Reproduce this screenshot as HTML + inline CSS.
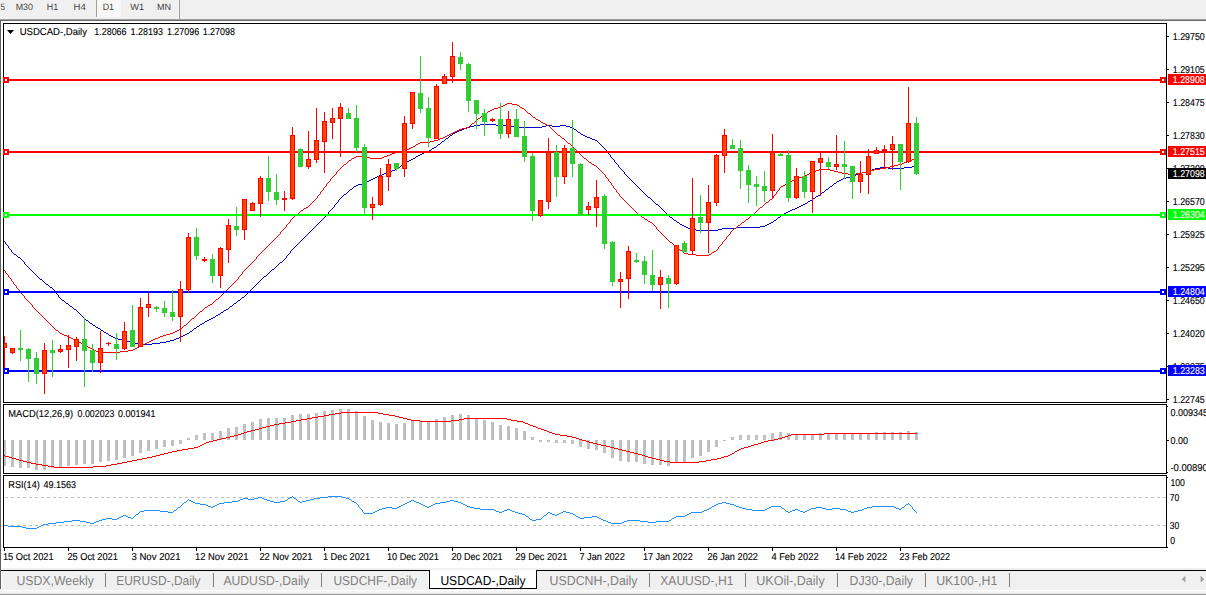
<!DOCTYPE html>
<html><head><meta charset="utf-8"><title>USDCAD-,Daily</title>
<style>html,body{margin:0;padding:0;background:#fff;overflow:hidden}body{width:1206px;height:595px;position:relative;font-family:"Liberation Sans", sans-serif}svg{position:absolute;left:0;top:0;display:block}svg text{font-family:"Liberation Sans", sans-serif;white-space:pre}</style></head><body>
<svg width="1206" height="595" viewBox="0 0 1206 595" shape-rendering="crispEdges">
<rect x="0" y="0" width="1206" height="595" fill="#ffffff"/>
<rect x="0" y="0" width="1206" height="19" fill="#f0f0f0"/>
<rect x="0" y="19" width="1206" height="1" fill="#a0a0a0"/>
<rect x="0" y="20" width="1206" height="1" fill="#696969"/>
<rect x="96" y="0" width="1" height="17" fill="#a0a0a0"/>
<rect x="97" y="0" width="24" height="17" fill="#f8f8f8"/>
<rect x="179" y="0" width="1" height="19" fill="#a0a0a0"/>
<text x="0.5" y="10.2" font-size="9.2" fill="#444444" textLength="4.5" lengthAdjust="spacingAndGlyphs" text-rendering="geometricPrecision">5</text>
<text x="15.7" y="10.2" font-size="9.2" fill="#444444" textLength="17.3" lengthAdjust="spacingAndGlyphs" text-rendering="geometricPrecision">M30</text>
<text x="46.8" y="10.2" font-size="9.2" fill="#444444" textLength="11.4" lengthAdjust="spacingAndGlyphs" text-rendering="geometricPrecision">H1</text>
<text x="73.6" y="10.2" font-size="9.2" fill="#444444" textLength="12.2" lengthAdjust="spacingAndGlyphs" text-rendering="geometricPrecision">H4</text>
<text x="102.7" y="10.2" font-size="9.2" fill="#444444" textLength="11.3" lengthAdjust="spacingAndGlyphs" text-rendering="geometricPrecision">D1</text>
<text x="130.3" y="10.2" font-size="9.2" fill="#444444" textLength="13.9" lengthAdjust="spacingAndGlyphs" text-rendering="geometricPrecision">W1</text>
<text x="156.9" y="10.2" font-size="9.2" fill="#444444" textLength="14.1" lengthAdjust="spacingAndGlyphs" text-rendering="geometricPrecision">MN</text>
<rect x="0" y="21" width="1" height="568" fill="#606060"/>
<rect x="0" y="568" width="1206" height="2" fill="#f0f0f0"/>
<rect x="1" y="570" width="1206" height="1" fill="#000000"/>
<rect x="1" y="571" width="1206" height="18" fill="#f0f0f0"/>
<rect x="0" y="589" width="1206" height="1" fill="#f0f0f0"/>
<rect x="0" y="590" width="1206" height="1" fill="#ffffff"/>
<rect x="0" y="591" width="1206" height="2" fill="#f4f4f4"/>
<rect x="0" y="593" width="1206" height="1" fill="#e0e0e0"/>
<rect x="0" y="594" width="1206" height="1" fill="#a0a0a0"/>
<rect x="0" y="21" width="1" height="568" fill="#606060"/>
<rect x="1" y="571" width="1" height="18" fill="#ffffff"/>
<rect x="429" y="570" width="108" height="19" fill="#000000"/>
<rect x="430" y="570" width="106" height="18" fill="#ffffff"/>
<rect x="428" y="571" width="1" height="18" fill="#ffffff"/>
<g shape-rendering="auto">
<text x="16.4" y="584.6" font-size="13" fill="#808080" textLength="77.6" lengthAdjust="spacingAndGlyphs" text-rendering="geometricPrecision">USDX,Weekly</text>
<text x="116.3" y="584.6" font-size="13" fill="#808080" textLength="84.2" lengthAdjust="spacingAndGlyphs" text-rendering="geometricPrecision">EURUSD-,Daily</text>
<text x="223.4" y="584.6" font-size="13" fill="#808080" textLength="86.0" lengthAdjust="spacingAndGlyphs" text-rendering="geometricPrecision">AUDUSD-,Daily</text>
<text x="333.5" y="584.6" font-size="13" fill="#808080" textLength="83.5" lengthAdjust="spacingAndGlyphs" text-rendering="geometricPrecision">USDCHF-,Daily</text>
<text x="440.4" y="584.6" font-size="13" fill="#000000" textLength="85.2" lengthAdjust="spacingAndGlyphs" text-rendering="geometricPrecision">USDCAD-,Daily</text>
<text x="549.5" y="584.6" font-size="13" fill="#808080" textLength="88.0" lengthAdjust="spacingAndGlyphs" text-rendering="geometricPrecision">USDCNH-,Daily</text>
<text x="660.3" y="584.6" font-size="13" fill="#808080" textLength="73.1" lengthAdjust="spacingAndGlyphs" text-rendering="geometricPrecision">XAUUSD-,H1</text>
<text x="756.3" y="584.6" font-size="13" fill="#808080" textLength="68.4" lengthAdjust="spacingAndGlyphs" text-rendering="geometricPrecision">UKOil-,Daily</text>
<text x="849.6" y="584.6" font-size="13" fill="#808080" textLength="63.4" lengthAdjust="spacingAndGlyphs" text-rendering="geometricPrecision">DJ30-,Daily</text>
<text x="936.2" y="584.6" font-size="13" fill="#808080" textLength="61.1" lengthAdjust="spacingAndGlyphs" text-rendering="geometricPrecision">UK100-,H1</text>
</g>
<rect x="105" y="573" width="1" height="14" fill="#808080"/>
<rect x="213" y="573" width="1" height="14" fill="#808080"/>
<rect x="321" y="573" width="1" height="14" fill="#808080"/>
<rect x="649" y="573" width="1" height="14" fill="#808080"/>
<rect x="745" y="573" width="1" height="14" fill="#808080"/>
<rect x="837" y="573" width="1" height="14" fill="#808080"/>
<rect x="925" y="573" width="1" height="14" fill="#808080"/>
<rect x="1009" y="573" width="1" height="14" fill="#808080"/>
<path d="M1185.4 575.8 L1185.4 582.6 L1181.7 579.2 Z" fill="#a0a0a0" shape-rendering="auto"/>
<path d="M1200.6 575.8 L1200.6 582.6 L1204.3 579.2 Z" fill="#a0a0a0" shape-rendering="auto"/>
<rect x="3" y="23" width="1164" height="1" fill="#000"/>
<rect x="3" y="402" width="1164" height="1" fill="#000"/>
<rect x="3" y="23" width="1" height="380" fill="#000"/>
<rect x="1166" y="23" width="1" height="380" fill="#000"/>
<rect x="3" y="404" width="1164" height="1" fill="#000"/>
<rect x="3" y="473" width="1164" height="1" fill="#000"/>
<rect x="3" y="404" width="1" height="70" fill="#000"/>
<rect x="1166" y="404" width="1" height="70" fill="#000"/>
<rect x="3" y="475" width="1164" height="1" fill="#000"/>
<rect x="3" y="547" width="1164" height="1" fill="#000"/>
<rect x="3" y="475" width="1" height="73" fill="#000"/>
<rect x="1166" y="475" width="1" height="73" fill="#000"/>
<clipPath id="cm"><rect x="4" y="24" width="1162" height="378"/></clipPath>
<g clip-path="url(#cm)">
<path d="M4 241h1v1h-1zM5 242h1v2h-1zM6 244h1v1h-1zM7 245h1v1h-1zM8 246h1v2h-1zM9 248h1v1h-1zM10 249h1v1h-1zM11 250h1v2h-1zM12 252h1v1h-1zM13 253h1v1h-1zM14 254h2v1h-2zM16 255h1v1h-1zM17 256h1v1h-1zM18 257h2v1h-2zM20 258h1v1h-1zM21 259h1v1h-1zM22 260h1v1h-1zM23 261h1v1h-1zM24 262h1v2h-1zM25 264h1v1h-1zM26 265h1v1h-1zM27 266h1v1h-1zM28 267h1v1h-1zM29 268h1v1h-1zM30 269h1v1h-1zM31 270h1v1h-1zM32 271h1v1h-1zM33 272h1v1h-1zM34 273h1v1h-1zM35 274h1v1h-1zM36 275h1v1h-1zM37 276h1v1h-1zM38 277h1v1h-1zM39 278h1v1h-1zM40 279h2v1h-2zM42 280h1v1h-1zM43 281h1v1h-1zM44 282h1v1h-1zM45 283h1v1h-1zM46 284h2v1h-2zM48 285h1v1h-1zM49 286h1v1h-1zM50 287h2v1h-2zM52 288h1v1h-1zM53 289h1v1h-1zM54 290h1v2h-1zM55 292h1v1h-1zM56 293h1v1h-1zM57 294h1v1h-1zM58 295h1v2h-1zM59 297h1v1h-1zM60 298h1v1h-1zM61 299h1v1h-1zM62 300h2v1h-2zM64 301h1v1h-1zM65 302h1v1h-1zM66 303h2v1h-2zM68 304h1v1h-1zM69 305h1v1h-1zM70 306h2v1h-2zM72 307h1v1h-1zM73 308h1v1h-1zM74 309h2v1h-2zM76 310h1v1h-1zM77 311h1v1h-1zM78 312h1v1h-1zM79 313h1v1h-1zM80 314h1v1h-1zM81 315h1v1h-1zM82 316h1v1h-1zM83 317h1v1h-1zM84 318h1v1h-1zM85 319h1v1h-1zM86 320h2v1h-2zM88 321h1v1h-1zM89 322h1v1h-1zM90 323h2v1h-2zM92 324h1v1h-1zM93 325h2v1h-2zM95 326h1v1h-1zM96 327h2v1h-2zM98 328h2v1h-2zM100 329h1v1h-1zM101 330h2v1h-2zM103 331h1v1h-1zM104 332h2v1h-2zM106 333h2v1h-2zM108 334h1v1h-1zM109 335h2v1h-2zM111 336h2v1h-2zM113 337h2v1h-2zM115 338h3v1h-3zM118 339h4v1h-4zM122 340h4v1h-4zM126 341h4v1h-4zM130 342h4v1h-4zM134 343h4v1h-4zM138 344h14v1h-14zM152 343h8v1h-8zM160 342h6v1h-6zM166 341h4v1h-4zM170 340h4v1h-4zM174 339h2v1h-2zM176 338h3v1h-3zM179 337h2v1h-2zM181 336h2v1h-2zM183 335h2v1h-2zM185 334h2v1h-2zM187 333h2v1h-2zM189 332h1v1h-1zM190 331h2v1h-2zM192 330h1v1h-1zM193 329h1v1h-1zM194 328h2v1h-2zM196 327h1v1h-1zM197 326h2v1h-2zM199 325h1v1h-1zM200 324h2v1h-2zM202 323h2v1h-2zM204 322h1v1h-1zM205 321h2v1h-2zM207 320h2v1h-2zM209 319h2v1h-2zM211 318h2v1h-2zM213 317h2v1h-2zM215 316h1v1h-1zM216 315h2v1h-2zM218 314h2v1h-2zM220 313h1v1h-1zM221 312h2v1h-2zM223 311h1v1h-1zM224 310h2v1h-2zM226 309h2v1h-2zM228 308h1v1h-1zM229 307h1v1h-1zM230 306h2v1h-2zM232 305h1v1h-1zM233 304h1v1h-1zM234 303h2v1h-2zM236 302h1v1h-1zM237 301h1v1h-1zM238 300h2v1h-2zM240 299h1v1h-1zM241 298h1v1h-1zM242 297h2v1h-2zM244 296h1v1h-1zM245 295h1v1h-1zM246 294h1v1h-1zM247 293h1v1h-1zM248 292h1v1h-1zM249 291h1v1h-1zM250 290h1v1h-1zM251 289h1v1h-1zM252 288h1v1h-1zM253 287h1v1h-1zM254 286h1v1h-1zM255 285h1v1h-1zM256 284h1v1h-1zM257 283h1v1h-1zM258 282h1v1h-1zM259 281h1v1h-1zM260 280h1v1h-1zM261 279h1v1h-1zM262 278h1v1h-1zM263 277h1v1h-1zM264 276h2v1h-2zM266 275h1v1h-1zM267 274h1v1h-1zM268 273h1v1h-1zM269 272h1v1h-1zM270 271h1v1h-1zM271 270h1v1h-1zM272 269h2v1h-2zM274 268h1v1h-1zM275 267h1v1h-1zM276 266h1v1h-1zM277 265h1v1h-1zM278 264h1v1h-1zM279 263h1v1h-1zM280 262h2v1h-2zM282 261h1v1h-1zM283 260h1v1h-1zM284 259h1v1h-1zM285 258h1v1h-1zM286 256h1v2h-1zM287 255h1v1h-1zM288 254h1v1h-1zM289 253h1v1h-1zM290 251h1v2h-1zM291 250h1v1h-1zM292 249h1v1h-1zM293 248h1v1h-1zM294 247h1v1h-1zM295 246h1v1h-1zM296 245h1v1h-1zM297 244h1v1h-1zM298 243h1v1h-1zM299 242h1v1h-1zM300 241h1v1h-1zM301 240h1v1h-1zM302 239h1v1h-1zM303 238h1v1h-1zM304 237h1v1h-1zM305 236h1v1h-1zM306 235h1v1h-1zM307 234h1v1h-1zM308 233h1v1h-1zM309 232h1v1h-1zM310 231h1v1h-1zM311 230h1v1h-1zM312 229h1v1h-1zM313 228h1v1h-1zM314 227h1v1h-1zM315 226h1v1h-1zM316 225h1v1h-1zM317 224h1v1h-1zM318 223h1v1h-1zM319 222h1v1h-1zM320 221h1v1h-1zM321 220h1v1h-1zM322 219h1v1h-1zM323 218h1v1h-1zM324 217h1v1h-1zM325 216h1v1h-1zM326 215h1v1h-1zM327 214h1v1h-1zM328 212h1v2h-1zM329 211h1v1h-1zM330 210h1v1h-1zM331 209h1v1h-1zM332 208h1v1h-1zM333 207h1v1h-1zM334 205h1v2h-1zM335 204h1v1h-1zM336 203h1v1h-1zM337 202h1v1h-1zM338 200h1v2h-1zM339 199h1v1h-1zM340 198h1v1h-1zM341 197h1v1h-1zM342 196h1v1h-1zM343 195h1v1h-1zM344 194h2v1h-2zM346 193h1v1h-1zM347 192h1v1h-1zM348 191h1v1h-1zM349 190h1v1h-1zM350 189h2v1h-2zM352 188h1v1h-1zM353 187h1v1h-1zM354 186h2v1h-2zM356 185h2v1h-2zM358 184h4v1h-4zM362 183h3v1h-3zM365 182h2v1h-2zM367 181h2v1h-2zM369 180h2v1h-2zM371 179h2v1h-2zM373 178h2v1h-2zM375 177h2v1h-2zM377 176h2v1h-2zM379 175h3v1h-3zM382 174h2v1h-2zM384 173h3v1h-3zM387 172h3v1h-3zM390 171h2v1h-2zM392 170h3v1h-3zM395 169h2v1h-2zM397 168h1v1h-1zM398 167h2v1h-2zM400 166h1v1h-1zM401 165h1v1h-1zM402 164h2v1h-2zM404 163h1v1h-1zM405 162h2v1h-2zM407 161h2v1h-2zM409 160h2v1h-2zM411 159h2v1h-2zM413 158h2v1h-2zM415 157h1v1h-1zM416 156h2v1h-2zM418 155h2v1h-2zM420 154h2v1h-2zM422 153h2v1h-2zM424 152h3v1h-3zM427 151h2v1h-2zM429 150h2v1h-2zM431 149h1v1h-1zM432 148h2v1h-2zM434 147h2v1h-2zM436 146h1v1h-1zM437 145h1v1h-1zM438 144h2v1h-2zM440 143h1v1h-1zM441 142h1v1h-1zM442 141h2v1h-2zM444 140h1v1h-1zM445 139h1v1h-1zM446 138h2v1h-2zM448 137h1v1h-1zM449 136h1v1h-1zM450 135h2v1h-2zM452 134h1v1h-1zM453 133h2v1h-2zM455 132h2v1h-2zM457 131h2v1h-2zM459 130h3v1h-3zM462 129h2v1h-2zM464 128h3v1h-3zM467 127h3v1h-3zM470 126h4v1h-4zM474 125h6v1h-6zM480 124h16v1h-16zM496 125h14v1h-14zM510 126h4v1h-4zM514 127h28v1h-28zM542 126h4v1h-4zM546 125h6v1h-6zM552 126h8v1h-8zM560 125h6v1h-6zM566 126h4v1h-4zM570 127h3v1h-3zM573 128h1v1h-1zM574 129h2v1h-2zM576 130h1v1h-1zM577 131h1v1h-1zM578 132h2v1h-2zM580 133h1v1h-1zM581 134h2v1h-2zM583 135h2v1h-2zM585 136h2v1h-2zM587 137h3v1h-3zM590 138h2v1h-2zM592 139h3v1h-3zM595 140h2v1h-2zM597 141h1v1h-1zM598 142h1v1h-1zM599 143h1v1h-1zM600 144h1v1h-1zM601 145h1v1h-1zM602 146h1v1h-1zM603 147h1v1h-1zM604 148h1v1h-1zM605 149h1v1h-1zM606 150h1v2h-1zM607 152h1v1h-1zM608 153h1v1h-1zM609 154h1v1h-1zM610 155h1v2h-1zM611 157h1v1h-1zM612 158h1v1h-1zM613 159h1v1h-1zM614 160h1v2h-1zM615 162h1v1h-1zM616 163h1v1h-1zM617 164h1v1h-1zM618 165h1v2h-1zM619 167h1v1h-1zM620 168h1v1h-1zM621 169h1v1h-1zM622 170h1v1h-1zM623 171h1v1h-1zM624 172h1v2h-1zM625 174h1v1h-1zM626 175h1v1h-1zM627 176h1v1h-1zM628 177h1v1h-1zM629 178h1v1h-1zM630 179h1v1h-1zM631 180h1v1h-1zM632 181h1v1h-1zM633 182h1v1h-1zM634 183h1v1h-1zM635 184h1v1h-1zM636 185h1v1h-1zM637 186h1v1h-1zM638 187h1v1h-1zM639 188h1v1h-1zM640 189h1v1h-1zM641 190h1v1h-1zM642 191h1v1h-1zM643 192h1v1h-1zM644 193h1v1h-1zM645 194h1v1h-1zM646 195h1v1h-1zM647 196h1v1h-1zM648 197h2v1h-2zM650 198h1v1h-1zM651 199h1v1h-1zM652 200h1v1h-1zM653 201h1v1h-1zM654 202h1v1h-1zM655 203h1v1h-1zM656 204h2v1h-2zM658 205h1v1h-1zM659 206h1v1h-1zM660 207h1v1h-1zM661 208h1v1h-1zM662 209h1v1h-1zM663 210h1v1h-1zM664 211h1v1h-1zM665 212h1v1h-1zM666 213h1v1h-1zM667 214h1v1h-1zM668 215h1v1h-1zM669 216h1v1h-1zM670 217h2v1h-2zM672 218h1v1h-1zM673 219h1v1h-1zM674 220h2v1h-2zM676 221h1v1h-1zM677 222h2v1h-2zM679 223h1v1h-1zM680 224h2v1h-2zM682 225h2v1h-2zM684 226h2v1h-2zM686 227h2v1h-2zM688 228h3v1h-3zM691 229h5v1h-5zM696 230h22v1h-22zM718 229h4v1h-4zM722 228h14v1h-14zM736 227h24v1h-24zM760 226h5v1h-5zM765 225h2v1h-2zM767 224h2v1h-2zM769 223h2v1h-2zM771 222h2v1h-2zM773 221h1v1h-1zM774 220h2v1h-2zM776 219h1v1h-1zM777 218h1v1h-1zM778 217h2v1h-2zM780 216h1v1h-1zM781 215h2v1h-2zM783 214h1v1h-1zM784 213h2v1h-2zM786 212h2v1h-2zM788 211h2v1h-2zM790 210h2v1h-2zM792 209h3v1h-3zM795 208h2v1h-2zM797 207h2v1h-2zM799 206h2v1h-2zM801 205h2v1h-2zM803 204h2v1h-2zM805 203h2v1h-2zM807 202h1v1h-1zM808 201h2v1h-2zM810 200h2v1h-2zM812 199h1v1h-1zM813 198h2v1h-2zM815 197h1v1h-1zM816 196h2v1h-2zM818 195h2v1h-2zM820 194h1v1h-1zM821 193h1v1h-1zM822 192h2v1h-2zM824 191h1v1h-1zM825 190h1v1h-1zM826 189h2v1h-2zM828 188h1v1h-1zM829 187h1v1h-1zM830 186h2v1h-2zM832 185h1v1h-1zM833 184h1v1h-1zM834 183h2v1h-2zM836 182h1v1h-1zM837 181h2v1h-2zM839 180h2v1h-2zM841 179h2v1h-2zM843 178h3v1h-3zM846 177h4v1h-4zM850 176h4v1h-4zM854 175h2v1h-2zM856 174h3v1h-3zM859 173h3v1h-3zM862 172h4v1h-4zM866 171h4v1h-4zM870 170h2v1h-2zM872 169h3v1h-3zM875 168h5v1h-5zM880 167h8v1h-8zM888 168h16v1h-16zM904 167h8v1h-8zM912 166h5v1h-5z" fill="#0000cd"/>
<path d="M4 270h1v1h-1zM5 271h1v2h-1zM6 273h1v1h-1zM7 274h1v1h-1zM8 275h1v2h-1zM9 277h1v1h-1zM10 278h1v1h-1zM11 279h1v2h-1zM12 281h1v1h-1zM13 282h1v2h-1zM14 284h1v1h-1zM15 285h1v1h-1zM16 286h1v2h-1zM17 288h1v1h-1zM18 289h1v1h-1zM19 290h1v2h-1zM20 292h1v1h-1zM21 293h1v1h-1zM22 294h1v1h-1zM23 295h1v1h-1zM24 296h1v2h-1zM25 298h1v1h-1zM26 299h1v1h-1zM27 300h1v1h-1zM28 301h1v1h-1zM29 302h1v1h-1zM30 303h1v1h-1zM31 304h1v1h-1zM32 305h1v2h-1zM33 307h1v1h-1zM34 308h1v1h-1zM35 309h1v1h-1zM36 310h1v1h-1zM37 311h1v1h-1zM38 312h1v1h-1zM39 313h1v1h-1zM40 314h1v1h-1zM41 315h1v1h-1zM42 316h1v1h-1zM43 317h1v1h-1zM44 318h1v1h-1zM45 319h1v1h-1zM46 320h1v1h-1zM47 321h1v1h-1zM48 322h1v1h-1zM49 323h1v1h-1zM50 324h1v1h-1zM51 325h1v1h-1zM52 326h1v1h-1zM53 327h1v1h-1zM54 328h1v1h-1zM55 329h1v1h-1zM56 330h2v1h-2zM58 331h1v1h-1zM59 332h1v1h-1zM60 333h2v1h-2zM62 334h2v1h-2zM64 335h3v1h-3zM67 336h2v1h-2zM69 337h2v1h-2zM71 338h2v1h-2zM73 339h2v1h-2zM75 340h2v1h-2zM77 341h2v1h-2zM79 342h2v1h-2zM81 343h2v1h-2zM83 344h2v1h-2zM85 345h2v1h-2zM87 346h1v1h-1zM88 347h2v1h-2zM90 348h2v1h-2zM92 349h2v1h-2zM94 350h2v1h-2zM96 351h3v1h-3zM99 352h21v1h-21zM120 351h8v1h-8zM128 350h5v1h-5zM133 349h2v1h-2zM135 348h2v1h-2zM137 347h2v1h-2zM139 346h2v1h-2zM141 345h2v1h-2zM143 344h2v1h-2zM145 343h2v1h-2zM147 342h2v1h-2zM149 341h2v1h-2zM151 340h2v1h-2zM153 339h2v1h-2zM155 338h3v1h-3zM158 337h2v1h-2zM160 336h3v1h-3zM163 335h3v1h-3zM166 334h4v1h-4zM170 333h3v1h-3zM173 332h2v1h-2zM175 331h2v1h-2zM177 330h2v1h-2zM179 329h2v1h-2zM181 328h1v1h-1zM182 327h1v1h-1zM183 326h1v1h-1zM184 325h2v1h-2zM186 324h1v1h-1zM187 323h1v1h-1zM188 322h1v1h-1zM189 321h1v1h-1zM190 320h1v1h-1zM191 319h1v1h-1zM192 318h2v1h-2zM194 317h1v1h-1zM195 316h1v1h-1zM196 315h1v1h-1zM197 314h1v1h-1zM198 313h1v1h-1zM199 312h1v1h-1zM200 311h2v1h-2zM202 310h1v1h-1zM203 309h1v1h-1zM204 308h1v1h-1zM205 307h2v1h-2zM207 306h1v1h-1zM208 305h2v1h-2zM210 304h2v1h-2zM212 303h1v1h-1zM213 302h1v1h-1zM214 301h1v1h-1zM215 300h1v1h-1zM216 299h2v1h-2zM218 298h1v1h-1zM219 297h1v1h-1zM220 296h1v1h-1zM221 295h1v1h-1zM222 294h1v1h-1zM223 293h1v1h-1zM224 292h1v1h-1zM225 291h1v1h-1zM226 290h1v1h-1zM227 289h1v1h-1zM228 288h1v1h-1zM229 287h1v1h-1zM230 286h1v1h-1zM231 285h1v1h-1zM232 284h1v1h-1zM233 283h1v1h-1zM234 282h1v1h-1zM235 281h1v1h-1zM236 280h1v1h-1zM237 279h1v1h-1zM238 277h1v2h-1zM239 276h1v1h-1zM240 275h1v1h-1zM241 274h1v1h-1zM242 272h1v2h-1zM243 271h1v1h-1zM244 270h1v1h-1zM245 269h1v1h-1zM246 268h1v1h-1zM247 267h1v1h-1zM248 266h1v1h-1zM249 265h1v1h-1zM250 264h1v1h-1zM251 263h1v1h-1zM252 262h1v1h-1zM253 261h1v1h-1zM254 260h1v1h-1zM255 259h1v1h-1zM256 257h1v2h-1zM257 256h1v1h-1zM258 255h1v1h-1zM259 254h1v1h-1zM260 253h1v1h-1zM261 252h1v1h-1zM262 251h1v1h-1zM263 250h1v1h-1zM264 249h1v1h-1zM265 248h1v1h-1zM266 247h1v1h-1zM267 246h1v1h-1zM268 245h1v1h-1zM269 244h1v1h-1zM270 243h1v1h-1zM271 242h1v1h-1zM272 241h1v1h-1zM273 240h1v1h-1zM274 239h1v1h-1zM275 238h1v1h-1zM276 237h1v1h-1zM277 236h1v1h-1zM278 235h1v1h-1zM279 234h1v1h-1zM280 232h1v2h-1zM281 231h1v1h-1zM282 230h1v1h-1zM283 229h1v1h-1zM284 228h1v1h-1zM285 227h1v1h-1zM286 225h1v2h-1zM287 224h1v1h-1zM288 223h1v1h-1zM289 222h1v1h-1zM290 220h1v2h-1zM291 219h1v1h-1zM292 218h1v1h-1zM293 217h1v1h-1zM294 216h1v1h-1zM295 215h1v1h-1zM296 214h2v1h-2zM298 213h1v1h-1zM299 212h1v1h-1zM300 211h1v1h-1zM301 210h2v1h-2zM303 209h1v1h-1zM304 208h2v1h-2zM306 207h2v1h-2zM308 206h1v1h-1zM309 205h1v1h-1zM310 204h1v1h-1zM311 203h1v1h-1zM312 202h1v1h-1zM313 201h1v1h-1zM314 200h1v1h-1zM315 199h1v1h-1zM316 198h1v1h-1zM317 196h1v2h-1zM318 195h1v1h-1zM319 194h1v1h-1zM320 192h1v2h-1zM321 191h1v1h-1zM322 190h1v1h-1zM323 188h1v2h-1zM324 187h1v1h-1zM325 186h1v1h-1zM326 184h1v2h-1zM327 183h1v1h-1zM328 182h1v1h-1zM329 181h1v1h-1zM330 179h1v2h-1zM331 178h1v1h-1zM332 177h1v1h-1zM333 176h1v1h-1zM334 175h1v1h-1zM335 174h1v1h-1zM336 172h1v2h-1zM337 171h1v1h-1zM338 170h1v1h-1zM339 169h1v1h-1zM340 168h1v1h-1zM341 167h1v1h-1zM342 166h1v1h-1zM343 165h1v1h-1zM344 164h2v1h-2zM346 163h1v1h-1zM347 162h1v1h-1zM348 161h1v1h-1zM349 160h2v1h-2zM351 159h1v1h-1zM352 158h2v1h-2zM354 157h2v1h-2zM356 156h10v1h-10zM366 157h4v1h-4zM370 158h12v1h-12zM382 157h2v1h-2zM384 156h3v1h-3zM387 155h3v1h-3zM390 154h2v1h-2zM392 153h3v1h-3zM395 152h5v1h-5zM400 151h5v1h-5zM405 150h2v1h-2zM407 149h2v1h-2zM409 148h2v1h-2zM411 147h2v1h-2zM413 146h2v1h-2zM415 145h1v1h-1zM416 144h2v1h-2zM418 143h2v1h-2zM420 142h10v1h-10zM430 141h4v1h-4zM434 140h4v1h-4zM438 139h2v1h-2zM440 138h3v1h-3zM443 137h2v1h-2zM445 136h2v1h-2zM447 135h2v1h-2zM449 134h2v1h-2zM451 133h2v1h-2zM453 132h2v1h-2zM455 131h2v1h-2zM457 130h2v1h-2zM459 129h3v1h-3zM462 128h4v1h-4zM466 127h3v1h-3zM469 126h1v1h-1zM470 125h1v1h-1zM471 124h1v1h-1zM472 123h2v1h-2zM474 122h1v1h-1zM475 121h1v1h-1zM476 120h1v1h-1zM477 119h1v1h-1zM478 118h2v1h-2zM480 117h1v1h-1zM481 116h1v1h-1zM482 115h2v1h-2zM484 114h1v1h-1zM485 113h2v1h-2zM487 112h1v1h-1zM488 111h2v1h-2zM490 110h2v1h-2zM492 109h2v1h-2zM494 108h4v1h-4zM498 107h3v1h-3zM501 106h2v1h-2zM503 105h2v1h-2zM505 104h2v1h-2zM507 103h5v1h-5zM512 104h5v1h-5zM517 105h2v1h-2zM519 106h1v1h-1zM520 107h2v1h-2zM522 108h2v1h-2zM524 109h1v1h-1zM525 110h1v1h-1zM526 111h1v1h-1zM527 112h1v1h-1zM528 113h2v1h-2zM530 114h1v1h-1zM531 115h1v1h-1zM532 116h1v1h-1zM533 117h2v1h-2zM535 118h1v1h-1zM536 119h2v1h-2zM538 120h2v1h-2zM540 121h1v1h-1zM541 122h2v1h-2zM543 123h2v1h-2zM545 124h2v1h-2zM547 125h2v1h-2zM549 126h1v1h-1zM550 127h1v1h-1zM551 128h1v1h-1zM552 129h1v1h-1zM553 130h1v1h-1zM554 131h1v1h-1zM555 132h1v1h-1zM556 133h1v1h-1zM557 134h1v1h-1zM558 135h2v1h-2zM560 136h1v1h-1zM561 137h1v1h-1zM562 138h2v1h-2zM564 139h1v1h-1zM565 140h1v1h-1zM566 141h1v1h-1zM567 142h1v1h-1zM568 143h2v1h-2zM570 144h1v1h-1zM571 145h1v1h-1zM572 146h1v1h-1zM573 147h1v1h-1zM574 148h1v1h-1zM575 149h1v1h-1zM576 150h1v1h-1zM577 151h1v1h-1zM578 152h1v1h-1zM579 153h1v1h-1zM580 154h1v1h-1zM581 155h1v1h-1zM582 156h1v1h-1zM583 157h1v1h-1zM584 158h2v1h-2zM586 159h1v1h-1zM587 160h1v1h-1zM588 161h1v1h-1zM589 162h2v1h-2zM591 163h1v1h-1zM592 164h2v1h-2zM594 165h2v1h-2zM596 166h1v1h-1zM597 167h1v1h-1zM598 168h1v1h-1zM599 169h1v1h-1zM600 170h1v1h-1zM601 171h1v1h-1zM602 172h1v1h-1zM603 173h1v1h-1zM604 174h1v1h-1zM605 175h1v2h-1zM606 177h1v1h-1zM607 178h1v1h-1zM608 179h1v2h-1zM609 181h1v1h-1zM610 182h1v1h-1zM611 183h1v2h-1zM612 185h1v1h-1zM613 186h1v2h-1zM614 188h1v1h-1zM615 189h1v1h-1zM616 190h1v2h-1zM617 192h1v1h-1zM618 193h1v1h-1zM619 194h1v2h-1zM620 196h1v1h-1zM621 197h1v1h-1zM622 198h1v1h-1zM623 199h1v1h-1zM624 200h1v1h-1zM625 201h1v1h-1zM626 202h1v1h-1zM627 203h1v1h-1zM628 204h1v1h-1zM629 205h1v1h-1zM630 206h1v1h-1zM631 207h1v1h-1zM632 208h1v1h-1zM633 209h1v1h-1zM634 210h1v1h-1zM635 211h1v1h-1zM636 212h1v1h-1zM637 213h1v1h-1zM638 214h2v1h-2zM640 215h1v1h-1zM641 216h1v1h-1zM642 217h2v1h-2zM644 218h1v1h-1zM645 219h2v1h-2zM647 220h1v1h-1zM648 221h2v1h-2zM650 222h2v1h-2zM652 223h1v1h-1zM653 224h1v1h-1zM654 225h1v1h-1zM655 226h1v1h-1zM656 227h1v2h-1zM657 229h1v1h-1zM658 230h1v1h-1zM659 231h1v1h-1zM660 232h1v1h-1zM661 233h1v1h-1zM662 234h1v1h-1zM663 235h1v1h-1zM664 236h1v1h-1zM665 237h1v1h-1zM666 238h1v1h-1zM667 239h1v1h-1zM668 240h1v1h-1zM669 241h1v1h-1zM670 242h2v1h-2zM672 243h1v1h-1zM673 244h1v1h-1zM674 245h2v1h-2zM676 246h1v1h-1zM677 247h1v1h-1zM678 248h1v1h-1zM679 249h1v1h-1zM680 250h2v1h-2zM682 251h1v1h-1zM683 252h1v1h-1zM684 253h4v1h-4zM688 254h8v1h-8zM696 255h13v1h-13zM709 254h2v1h-2zM711 253h1v1h-1zM712 252h2v1h-2zM714 251h2v1h-2zM716 250h1v1h-1zM717 249h1v1h-1zM718 247h1v2h-1zM719 246h1v1h-1zM720 245h1v1h-1zM721 244h1v1h-1zM722 242h1v2h-1zM723 241h1v1h-1zM724 240h1v1h-1zM725 239h1v1h-1zM726 237h1v2h-1zM727 236h1v1h-1zM728 235h1v1h-1zM729 234h1v1h-1zM730 232h1v2h-1zM731 231h1v1h-1zM732 230h1v1h-1zM733 229h1v1h-1zM734 228h2v1h-2zM736 227h1v1h-1zM737 226h1v1h-1zM738 225h2v1h-2zM740 224h1v1h-1zM741 223h1v1h-1zM742 222h2v1h-2zM744 221h1v1h-1zM745 220h1v1h-1zM746 219h2v1h-2zM748 218h1v1h-1zM749 217h1v1h-1zM750 216h1v1h-1zM751 215h1v1h-1zM752 214h2v1h-2zM754 213h1v1h-1zM755 212h1v1h-1zM756 211h1v1h-1zM757 210h1v1h-1zM758 209h1v1h-1zM759 208h1v1h-1zM760 207h2v1h-2zM762 206h1v1h-1zM763 205h1v1h-1zM764 204h1v1h-1zM765 203h1v1h-1zM766 202h2v1h-2zM768 201h1v1h-1zM769 200h1v1h-1zM770 199h2v1h-2zM772 198h1v1h-1zM773 196h1v2h-1zM774 195h1v1h-1zM775 194h1v1h-1zM776 192h1v2h-1zM777 191h1v1h-1zM778 190h1v1h-1zM779 188h1v2h-1zM780 187h1v1h-1zM781 186h2v1h-2zM783 185h2v1h-2zM785 184h2v1h-2zM787 183h2v1h-2zM789 182h2v1h-2zM791 181h1v1h-1zM792 180h2v1h-2zM794 179h2v1h-2zM796 178h2v1h-2zM798 177h4v1h-4zM802 176h3v1h-3zM805 175h2v1h-2zM807 174h2v1h-2zM809 173h2v1h-2zM811 172h3v1h-3zM814 171h2v1h-2zM816 170h3v1h-3zM819 169h11v1h-11zM830 170h4v1h-4zM834 171h4v1h-4zM838 172h4v1h-4zM842 173h6v1h-6zM848 174h8v1h-8zM856 173h6v1h-6zM862 172h4v1h-4zM866 171h4v1h-4zM870 170h4v1h-4zM874 169h6v1h-6zM880 168h6v1h-6zM886 167h4v1h-4zM890 166h4v1h-4zM894 165h4v1h-4zM898 164h4v1h-4zM902 163h2v1h-2zM904 162h3v1h-3zM907 161h3v1h-3zM910 160h2v1h-2zM912 159h3v1h-3zM915 158h2v1h-2z" fill="#ff0000"/>
<rect x="4" y="79" width="1162" height="2" fill="#ff0000"/>
<rect x="4" y="151" width="1162" height="2" fill="#ff0000"/>
<rect x="4" y="214" width="1162" height="2" fill="#00ff00"/>
<rect x="4" y="291" width="1162" height="2" fill="#0000ff"/>
<rect x="4" y="370" width="1162" height="2" fill="#0000ff"/>
<rect x="4" y="336" width="1" height="35" fill="#ff0000"/>
<rect x="2" y="343" width="5" height="5" fill="#ff0000"/>
<rect x="3" y="344" width="3" height="3" fill="#ff4500"/>
<rect x="12" y="348" width="1" height="6" fill="#ff0000"/>
<rect x="10" y="348" width="5" height="5" fill="#ff0000"/>
<rect x="11" y="349" width="3" height="3" fill="#ff4500"/>
<rect x="20" y="330" width="1" height="31" fill="#32cd32"/>
<rect x="18" y="348" width="5" height="2" fill="#32cd32"/>
<rect x="28" y="348" width="1" height="34" fill="#32cd32"/>
<rect x="26" y="349" width="5" height="10" fill="#32cd32"/>
<rect x="36" y="352" width="1" height="32" fill="#32cd32"/>
<rect x="34" y="358" width="5" height="16" fill="#32cd32"/>
<rect x="44" y="343" width="1" height="51" fill="#ff0000"/>
<rect x="42" y="350" width="5" height="24" fill="#ff0000"/>
<rect x="43" y="351" width="3" height="22" fill="#ff4500"/>
<rect x="52" y="340" width="1" height="37" fill="#32cd32"/>
<rect x="50" y="350" width="5" height="3" fill="#32cd32"/>
<rect x="60" y="345" width="1" height="8" fill="#ff0000"/>
<rect x="58" y="349" width="5" height="3" fill="#ff0000"/>
<rect x="59" y="350" width="3" height="1" fill="#ff4500"/>
<rect x="68" y="335" width="1" height="33" fill="#ff0000"/>
<rect x="66" y="345" width="5" height="5" fill="#ff0000"/>
<rect x="67" y="346" width="3" height="3" fill="#ff4500"/>
<rect x="76" y="337" width="1" height="24" fill="#ff0000"/>
<rect x="74" y="339" width="5" height="8" fill="#ff0000"/>
<rect x="75" y="340" width="3" height="6" fill="#ff4500"/>
<rect x="84" y="318" width="1" height="69" fill="#32cd32"/>
<rect x="82" y="339" width="5" height="12" fill="#32cd32"/>
<rect x="92" y="344" width="1" height="28" fill="#32cd32"/>
<rect x="90" y="350" width="5" height="13" fill="#32cd32"/>
<rect x="100" y="331" width="1" height="42" fill="#ff0000"/>
<rect x="98" y="348" width="5" height="15" fill="#ff0000"/>
<rect x="99" y="349" width="3" height="13" fill="#ff4500"/>
<rect x="108" y="342" width="1" height="4" fill="#ff0000"/>
<rect x="106" y="343" width="5" height="1" fill="#ff0000"/>
<rect x="116" y="333" width="1" height="27" fill="#32cd32"/>
<rect x="114" y="344" width="5" height="5" fill="#32cd32"/>
<rect x="124" y="322" width="1" height="28" fill="#ff0000"/>
<rect x="122" y="331" width="5" height="18" fill="#ff0000"/>
<rect x="123" y="332" width="3" height="16" fill="#ff4500"/>
<rect x="132" y="305" width="1" height="42" fill="#32cd32"/>
<rect x="130" y="330" width="5" height="17" fill="#32cd32"/>
<rect x="140" y="298" width="1" height="49" fill="#ff0000"/>
<rect x="138" y="307" width="5" height="40" fill="#ff0000"/>
<rect x="139" y="308" width="3" height="38" fill="#ff4500"/>
<rect x="148" y="293" width="1" height="24" fill="#ff0000"/>
<rect x="146" y="304" width="5" height="4" fill="#ff0000"/>
<rect x="147" y="305" width="3" height="2" fill="#ff4500"/>
<rect x="156" y="306" width="1" height="6" fill="#32cd32"/>
<rect x="154" y="307" width="5" height="2" fill="#32cd32"/>
<rect x="164" y="301" width="1" height="16" fill="#32cd32"/>
<rect x="162" y="308" width="5" height="5" fill="#32cd32"/>
<rect x="172" y="290" width="1" height="31" fill="#32cd32"/>
<rect x="170" y="312" width="5" height="5" fill="#32cd32"/>
<rect x="180" y="281" width="1" height="61" fill="#ff0000"/>
<rect x="178" y="289" width="5" height="28" fill="#ff0000"/>
<rect x="179" y="290" width="3" height="26" fill="#ff4500"/>
<rect x="188" y="233" width="1" height="60" fill="#ff0000"/>
<rect x="186" y="237" width="5" height="53" fill="#ff0000"/>
<rect x="187" y="238" width="3" height="51" fill="#ff4500"/>
<rect x="196" y="228" width="1" height="32" fill="#32cd32"/>
<rect x="194" y="237" width="5" height="19" fill="#32cd32"/>
<rect x="204" y="257" width="1" height="5" fill="#ff0000"/>
<rect x="202" y="259" width="5" height="2" fill="#ff0000"/>
<rect x="212" y="254" width="1" height="29" fill="#32cd32"/>
<rect x="210" y="259" width="5" height="17" fill="#32cd32"/>
<rect x="220" y="247" width="1" height="41" fill="#ff0000"/>
<rect x="218" y="248" width="5" height="28" fill="#ff0000"/>
<rect x="219" y="249" width="3" height="26" fill="#ff4500"/>
<rect x="228" y="219" width="1" height="44" fill="#ff0000"/>
<rect x="226" y="225" width="5" height="25" fill="#ff0000"/>
<rect x="227" y="226" width="3" height="23" fill="#ff4500"/>
<rect x="236" y="207" width="1" height="29" fill="#32cd32"/>
<rect x="234" y="226" width="5" height="4" fill="#32cd32"/>
<rect x="244" y="199" width="1" height="41" fill="#ff0000"/>
<rect x="242" y="199" width="5" height="31" fill="#ff0000"/>
<rect x="243" y="200" width="3" height="29" fill="#ff4500"/>
<rect x="252" y="202" width="1" height="9" fill="#ff0000"/>
<rect x="250" y="203" width="5" height="8" fill="#ff0000"/>
<rect x="251" y="204" width="3" height="6" fill="#ff4500"/>
<rect x="260" y="176" width="1" height="41" fill="#ff0000"/>
<rect x="258" y="178" width="5" height="26" fill="#ff0000"/>
<rect x="259" y="179" width="3" height="24" fill="#ff4500"/>
<rect x="268" y="156" width="1" height="45" fill="#32cd32"/>
<rect x="266" y="178" width="5" height="14" fill="#32cd32"/>
<rect x="276" y="174" width="1" height="31" fill="#32cd32"/>
<rect x="274" y="192" width="5" height="8" fill="#32cd32"/>
<rect x="284" y="191" width="1" height="20" fill="#ff0000"/>
<rect x="282" y="198" width="5" height="2" fill="#ff0000"/>
<rect x="292" y="127" width="1" height="73" fill="#ff0000"/>
<rect x="290" y="135" width="5" height="64" fill="#ff0000"/>
<rect x="291" y="136" width="3" height="62" fill="#ff4500"/>
<rect x="300" y="148" width="1" height="19" fill="#32cd32"/>
<rect x="298" y="149" width="5" height="18" fill="#32cd32"/>
<rect x="308" y="131" width="1" height="38" fill="#ff0000"/>
<rect x="306" y="159" width="5" height="8" fill="#ff0000"/>
<rect x="307" y="160" width="3" height="6" fill="#ff4500"/>
<rect x="316" y="108" width="1" height="55" fill="#ff0000"/>
<rect x="314" y="140" width="5" height="20" fill="#ff0000"/>
<rect x="315" y="141" width="3" height="18" fill="#ff4500"/>
<rect x="324" y="112" width="1" height="61" fill="#ff0000"/>
<rect x="322" y="121" width="5" height="21" fill="#ff0000"/>
<rect x="323" y="122" width="3" height="19" fill="#ff4500"/>
<rect x="332" y="108" width="1" height="31" fill="#ff0000"/>
<rect x="330" y="118" width="5" height="5" fill="#ff0000"/>
<rect x="331" y="119" width="3" height="3" fill="#ff4500"/>
<rect x="340" y="103" width="1" height="54" fill="#ff0000"/>
<rect x="338" y="107" width="5" height="12" fill="#ff0000"/>
<rect x="339" y="108" width="3" height="10" fill="#ff4500"/>
<rect x="348" y="108" width="1" height="11" fill="#32cd32"/>
<rect x="346" y="113" width="5" height="6" fill="#32cd32"/>
<rect x="356" y="105" width="1" height="47" fill="#32cd32"/>
<rect x="354" y="118" width="5" height="30" fill="#32cd32"/>
<rect x="364" y="144" width="1" height="70" fill="#32cd32"/>
<rect x="362" y="147" width="5" height="61" fill="#32cd32"/>
<rect x="372" y="197" width="1" height="23" fill="#ff0000"/>
<rect x="370" y="204" width="5" height="4" fill="#ff0000"/>
<rect x="371" y="205" width="3" height="2" fill="#ff4500"/>
<rect x="380" y="168" width="1" height="38" fill="#ff0000"/>
<rect x="378" y="176" width="5" height="29" fill="#ff0000"/>
<rect x="379" y="177" width="3" height="27" fill="#ff4500"/>
<rect x="388" y="159" width="1" height="32" fill="#ff0000"/>
<rect x="386" y="164" width="5" height="13" fill="#ff0000"/>
<rect x="387" y="165" width="3" height="11" fill="#ff4500"/>
<rect x="396" y="163" width="1" height="8" fill="#32cd32"/>
<rect x="394" y="163" width="5" height="6" fill="#32cd32"/>
<rect x="404" y="116" width="1" height="61" fill="#ff0000"/>
<rect x="402" y="123" width="5" height="46" fill="#ff0000"/>
<rect x="403" y="124" width="3" height="44" fill="#ff4500"/>
<rect x="412" y="92" width="1" height="37" fill="#ff0000"/>
<rect x="410" y="92" width="5" height="32" fill="#ff0000"/>
<rect x="411" y="93" width="3" height="30" fill="#ff4500"/>
<rect x="420" y="56" width="1" height="57" fill="#32cd32"/>
<rect x="418" y="93" width="5" height="16" fill="#32cd32"/>
<rect x="428" y="97" width="1" height="50" fill="#32cd32"/>
<rect x="426" y="108" width="5" height="30" fill="#32cd32"/>
<rect x="436" y="84" width="1" height="55" fill="#ff0000"/>
<rect x="434" y="86" width="5" height="53" fill="#ff0000"/>
<rect x="435" y="87" width="3" height="51" fill="#ff4500"/>
<rect x="444" y="74" width="1" height="10" fill="#ff0000"/>
<rect x="442" y="76" width="5" height="8" fill="#ff0000"/>
<rect x="443" y="77" width="3" height="6" fill="#ff4500"/>
<rect x="452" y="42" width="1" height="41" fill="#ff0000"/>
<rect x="450" y="56" width="5" height="21" fill="#ff0000"/>
<rect x="451" y="57" width="3" height="19" fill="#ff4500"/>
<rect x="460" y="52" width="1" height="18" fill="#32cd32"/>
<rect x="458" y="57" width="5" height="7" fill="#32cd32"/>
<rect x="468" y="63" width="1" height="49" fill="#32cd32"/>
<rect x="466" y="64" width="5" height="37" fill="#32cd32"/>
<rect x="476" y="100" width="1" height="29" fill="#32cd32"/>
<rect x="474" y="100" width="5" height="14" fill="#32cd32"/>
<rect x="484" y="109" width="1" height="27" fill="#32cd32"/>
<rect x="482" y="113" width="5" height="9" fill="#32cd32"/>
<rect x="492" y="118" width="1" height="4" fill="#ff0000"/>
<rect x="490" y="119" width="5" height="2" fill="#ff0000"/>
<rect x="500" y="103" width="1" height="36" fill="#32cd32"/>
<rect x="498" y="119" width="5" height="15" fill="#32cd32"/>
<rect x="508" y="111" width="1" height="27" fill="#ff0000"/>
<rect x="506" y="119" width="5" height="15" fill="#ff0000"/>
<rect x="507" y="120" width="3" height="13" fill="#ff4500"/>
<rect x="516" y="109" width="1" height="28" fill="#32cd32"/>
<rect x="514" y="119" width="5" height="18" fill="#32cd32"/>
<rect x="524" y="121" width="1" height="41" fill="#32cd32"/>
<rect x="522" y="136" width="5" height="21" fill="#32cd32"/>
<rect x="532" y="153" width="1" height="68" fill="#32cd32"/>
<rect x="530" y="156" width="5" height="55" fill="#32cd32"/>
<rect x="540" y="200" width="1" height="17" fill="#ff0000"/>
<rect x="538" y="200" width="5" height="16" fill="#ff0000"/>
<rect x="539" y="201" width="3" height="14" fill="#ff4500"/>
<rect x="548" y="138" width="1" height="71" fill="#ff0000"/>
<rect x="546" y="152" width="5" height="50" fill="#ff0000"/>
<rect x="547" y="153" width="3" height="48" fill="#ff4500"/>
<rect x="556" y="145" width="1" height="52" fill="#32cd32"/>
<rect x="554" y="152" width="5" height="25" fill="#32cd32"/>
<rect x="564" y="145" width="1" height="39" fill="#ff0000"/>
<rect x="562" y="148" width="5" height="29" fill="#ff0000"/>
<rect x="563" y="149" width="3" height="27" fill="#ff4500"/>
<rect x="572" y="120" width="1" height="57" fill="#32cd32"/>
<rect x="570" y="148" width="5" height="16" fill="#32cd32"/>
<rect x="580" y="163" width="1" height="52" fill="#32cd32"/>
<rect x="578" y="164" width="5" height="51" fill="#32cd32"/>
<rect x="588" y="202" width="1" height="13" fill="#ff0000"/>
<rect x="586" y="206" width="5" height="4" fill="#ff0000"/>
<rect x="587" y="207" width="3" height="2" fill="#ff4500"/>
<rect x="596" y="180" width="1" height="47" fill="#ff0000"/>
<rect x="594" y="197" width="5" height="11" fill="#ff0000"/>
<rect x="595" y="198" width="3" height="9" fill="#ff4500"/>
<rect x="604" y="194" width="1" height="55" fill="#32cd32"/>
<rect x="602" y="196" width="5" height="48" fill="#32cd32"/>
<rect x="612" y="241" width="1" height="45" fill="#32cd32"/>
<rect x="610" y="242" width="5" height="40" fill="#32cd32"/>
<rect x="620" y="272" width="1" height="36" fill="#ff0000"/>
<rect x="618" y="279" width="5" height="3" fill="#ff0000"/>
<rect x="619" y="280" width="3" height="1" fill="#ff4500"/>
<rect x="628" y="246" width="1" height="53" fill="#ff0000"/>
<rect x="626" y="251" width="5" height="28" fill="#ff0000"/>
<rect x="627" y="252" width="3" height="26" fill="#ff4500"/>
<rect x="636" y="253" width="1" height="10" fill="#32cd32"/>
<rect x="634" y="260" width="5" height="2" fill="#32cd32"/>
<rect x="644" y="256" width="1" height="28" fill="#32cd32"/>
<rect x="642" y="261" width="5" height="14" fill="#32cd32"/>
<rect x="652" y="250" width="1" height="41" fill="#32cd32"/>
<rect x="650" y="275" width="5" height="10" fill="#32cd32"/>
<rect x="660" y="270" width="1" height="39" fill="#ff0000"/>
<rect x="658" y="277" width="5" height="8" fill="#ff0000"/>
<rect x="659" y="278" width="3" height="6" fill="#ff4500"/>
<rect x="668" y="275" width="1" height="33" fill="#32cd32"/>
<rect x="666" y="278" width="5" height="6" fill="#32cd32"/>
<rect x="676" y="245" width="1" height="40" fill="#ff0000"/>
<rect x="674" y="245" width="5" height="39" fill="#ff0000"/>
<rect x="675" y="246" width="3" height="37" fill="#ff4500"/>
<rect x="684" y="241" width="1" height="11" fill="#32cd32"/>
<rect x="682" y="243" width="5" height="9" fill="#32cd32"/>
<rect x="692" y="178" width="1" height="77" fill="#ff0000"/>
<rect x="690" y="218" width="5" height="33" fill="#ff0000"/>
<rect x="691" y="219" width="3" height="31" fill="#ff4500"/>
<rect x="700" y="195" width="1" height="38" fill="#32cd32"/>
<rect x="698" y="217" width="5" height="6" fill="#32cd32"/>
<rect x="708" y="185" width="1" height="68" fill="#ff0000"/>
<rect x="706" y="202" width="5" height="21" fill="#ff0000"/>
<rect x="707" y="203" width="3" height="19" fill="#ff4500"/>
<rect x="716" y="154" width="1" height="52" fill="#ff0000"/>
<rect x="714" y="155" width="5" height="48" fill="#ff0000"/>
<rect x="715" y="156" width="3" height="46" fill="#ff4500"/>
<rect x="724" y="129" width="1" height="44" fill="#ff0000"/>
<rect x="722" y="135" width="5" height="21" fill="#ff0000"/>
<rect x="723" y="136" width="3" height="19" fill="#ff4500"/>
<rect x="732" y="139" width="1" height="10" fill="#32cd32"/>
<rect x="730" y="145" width="5" height="4" fill="#32cd32"/>
<rect x="740" y="140" width="1" height="49" fill="#32cd32"/>
<rect x="738" y="148" width="5" height="23" fill="#32cd32"/>
<rect x="748" y="165" width="1" height="38" fill="#32cd32"/>
<rect x="746" y="170" width="5" height="15" fill="#32cd32"/>
<rect x="756" y="176" width="1" height="30" fill="#32cd32"/>
<rect x="754" y="184" width="5" height="3" fill="#32cd32"/>
<rect x="764" y="171" width="1" height="31" fill="#32cd32"/>
<rect x="762" y="186" width="5" height="5" fill="#32cd32"/>
<rect x="772" y="134" width="1" height="65" fill="#ff0000"/>
<rect x="770" y="152" width="5" height="39" fill="#ff0000"/>
<rect x="771" y="153" width="3" height="37" fill="#ff4500"/>
<rect x="780" y="152" width="1" height="4" fill="#32cd32"/>
<rect x="778" y="154" width="5" height="2" fill="#32cd32"/>
<rect x="788" y="150" width="1" height="52" fill="#32cd32"/>
<rect x="786" y="155" width="5" height="43" fill="#32cd32"/>
<rect x="796" y="168" width="1" height="31" fill="#ff0000"/>
<rect x="794" y="176" width="5" height="22" fill="#ff0000"/>
<rect x="795" y="177" width="3" height="20" fill="#ff4500"/>
<rect x="804" y="171" width="1" height="27" fill="#32cd32"/>
<rect x="802" y="176" width="5" height="16" fill="#32cd32"/>
<rect x="812" y="161" width="1" height="52" fill="#ff0000"/>
<rect x="810" y="161" width="5" height="31" fill="#ff0000"/>
<rect x="811" y="162" width="3" height="29" fill="#ff4500"/>
<rect x="820" y="153" width="1" height="43" fill="#ff0000"/>
<rect x="818" y="158" width="5" height="5" fill="#ff0000"/>
<rect x="819" y="159" width="3" height="3" fill="#ff4500"/>
<rect x="828" y="157" width="1" height="12" fill="#32cd32"/>
<rect x="826" y="162" width="5" height="5" fill="#32cd32"/>
<rect x="836" y="135" width="1" height="35" fill="#ff0000"/>
<rect x="834" y="164" width="5" height="3" fill="#ff0000"/>
<rect x="835" y="165" width="3" height="1" fill="#ff4500"/>
<rect x="844" y="141" width="1" height="38" fill="#32cd32"/>
<rect x="842" y="164" width="5" height="3" fill="#32cd32"/>
<rect x="852" y="166" width="1" height="33" fill="#32cd32"/>
<rect x="850" y="166" width="5" height="16" fill="#32cd32"/>
<rect x="860" y="161" width="1" height="32" fill="#ff0000"/>
<rect x="858" y="174" width="5" height="8" fill="#ff0000"/>
<rect x="859" y="175" width="3" height="6" fill="#ff4500"/>
<rect x="868" y="149" width="1" height="45" fill="#ff0000"/>
<rect x="866" y="156" width="5" height="19" fill="#ff0000"/>
<rect x="867" y="157" width="3" height="17" fill="#ff4500"/>
<rect x="876" y="147" width="1" height="7" fill="#ff0000"/>
<rect x="874" y="150" width="5" height="4" fill="#ff0000"/>
<rect x="875" y="151" width="3" height="2" fill="#ff4500"/>
<rect x="884" y="145" width="1" height="24" fill="#ff0000"/>
<rect x="882" y="149" width="5" height="2" fill="#ff0000"/>
<rect x="892" y="136" width="1" height="34" fill="#ff0000"/>
<rect x="890" y="144" width="5" height="6" fill="#ff0000"/>
<rect x="891" y="145" width="3" height="4" fill="#ff4500"/>
<rect x="900" y="144" width="1" height="46" fill="#32cd32"/>
<rect x="898" y="144" width="5" height="18" fill="#32cd32"/>
<rect x="908" y="87" width="1" height="76" fill="#ff0000"/>
<rect x="906" y="123" width="5" height="39" fill="#ff0000"/>
<rect x="907" y="124" width="3" height="37" fill="#ff4500"/>
<rect x="916" y="117" width="1" height="58" fill="#32cd32"/>
<rect x="914" y="123" width="5" height="51" fill="#32cd32"/>
</g>
<rect x="3" y="77" width="6" height="6" fill="#ff0000"/>
<rect x="5" y="79" width="2" height="2" fill="#fff"/>
<rect x="1160" y="77" width="6" height="6" fill="#ff0000"/>
<rect x="1162" y="79" width="2" height="2" fill="#fff"/>
<rect x="3" y="149" width="6" height="6" fill="#ff0000"/>
<rect x="5" y="151" width="2" height="2" fill="#fff"/>
<rect x="1160" y="149" width="6" height="6" fill="#ff0000"/>
<rect x="1162" y="151" width="2" height="2" fill="#fff"/>
<rect x="3" y="212" width="6" height="6" fill="#00ff00"/>
<rect x="5" y="214" width="2" height="2" fill="#fff"/>
<rect x="1160" y="212" width="6" height="6" fill="#00ff00"/>
<rect x="1162" y="214" width="2" height="2" fill="#fff"/>
<rect x="3" y="289" width="6" height="6" fill="#0000ff"/>
<rect x="5" y="291" width="2" height="2" fill="#fff"/>
<rect x="1160" y="289" width="6" height="6" fill="#0000ff"/>
<rect x="1162" y="291" width="2" height="2" fill="#fff"/>
<rect x="3" y="368" width="6" height="6" fill="#0000ff"/>
<rect x="5" y="370" width="2" height="2" fill="#fff"/>
<rect x="1160" y="368" width="6" height="6" fill="#0000ff"/>
<rect x="1162" y="370" width="2" height="2" fill="#fff"/>
<rect x="1166" y="23" width="1" height="380" fill="#000"/>
<path d="M7 30 L14 30 L10.5 34 Z" fill="#000" shape-rendering="auto"/>
<g shape-rendering="auto">
<text x="19.7" y="35" font-size="10" fill="#000" textLength="67.3" lengthAdjust="spacingAndGlyphs" text-rendering="geometricPrecision" stroke="#000" stroke-width="0.12">USDCAD-,Daily</text>
<text x="94.3" y="35" font-size="10" fill="#000" textLength="32.2" lengthAdjust="spacingAndGlyphs" text-rendering="geometricPrecision" stroke="#000" stroke-width="0.12">1.28066</text>
<text x="130.6" y="35" font-size="10" fill="#000" textLength="32.5" lengthAdjust="spacingAndGlyphs" text-rendering="geometricPrecision" stroke="#000" stroke-width="0.12">1.28193</text>
<text x="166.9" y="35" font-size="10" fill="#000" textLength="32.2" lengthAdjust="spacingAndGlyphs" text-rendering="geometricPrecision" stroke="#000" stroke-width="0.12">1.27096</text>
<text x="202.7" y="35" font-size="10" fill="#000" textLength="32.2" lengthAdjust="spacingAndGlyphs" text-rendering="geometricPrecision" stroke="#000" stroke-width="0.12">1.27098</text>
<text x="1172.8" y="39.5" font-size="10" fill="#000" textLength="32.0" lengthAdjust="spacingAndGlyphs" text-rendering="geometricPrecision" stroke="#000" stroke-width="0.12">1.29750</text>
<text x="1172.8" y="72.5" font-size="10" fill="#000" textLength="32.0" lengthAdjust="spacingAndGlyphs" text-rendering="geometricPrecision" stroke="#000" stroke-width="0.12">1.29105</text>
<text x="1172.8" y="105.5" font-size="10" fill="#000" textLength="32.0" lengthAdjust="spacingAndGlyphs" text-rendering="geometricPrecision" stroke="#000" stroke-width="0.12">1.28475</text>
<text x="1172.8" y="138.5" font-size="10" fill="#000" textLength="32.0" lengthAdjust="spacingAndGlyphs" text-rendering="geometricPrecision" stroke="#000" stroke-width="0.12">1.27830</text>
<text x="1172.8" y="171.5" font-size="10" fill="#000" textLength="32.0" lengthAdjust="spacingAndGlyphs" text-rendering="geometricPrecision" stroke="#000" stroke-width="0.12">1.27200</text>
<text x="1172.8" y="204.5" font-size="10" fill="#000" textLength="32.0" lengthAdjust="spacingAndGlyphs" text-rendering="geometricPrecision" stroke="#000" stroke-width="0.12">1.26570</text>
<text x="1172.8" y="237.5" font-size="10" fill="#000" textLength="32.0" lengthAdjust="spacingAndGlyphs" text-rendering="geometricPrecision" stroke="#000" stroke-width="0.12">1.25925</text>
<text x="1172.8" y="270.5" font-size="10" fill="#000" textLength="32.0" lengthAdjust="spacingAndGlyphs" text-rendering="geometricPrecision" stroke="#000" stroke-width="0.12">1.25295</text>
<text x="1172.8" y="303.5" font-size="10" fill="#000" textLength="32.0" lengthAdjust="spacingAndGlyphs" text-rendering="geometricPrecision" stroke="#000" stroke-width="0.12">1.24650</text>
<text x="1172.8" y="336.5" font-size="10" fill="#000" textLength="32.0" lengthAdjust="spacingAndGlyphs" text-rendering="geometricPrecision" stroke="#000" stroke-width="0.12">1.24020</text>
<text x="1172.8" y="369.5" font-size="10" fill="#000" textLength="32.0" lengthAdjust="spacingAndGlyphs" text-rendering="geometricPrecision" stroke="#000" stroke-width="0.12">1.23375</text>
<text x="1172.8" y="402.5" font-size="10" fill="#000" textLength="32.0" lengthAdjust="spacingAndGlyphs" text-rendering="geometricPrecision" stroke="#000" stroke-width="0.12">1.22745</text>
</g>
<rect x="1167" y="36" width="2" height="1" fill="#000"/>
<rect x="1167" y="69" width="2" height="1" fill="#000"/>
<rect x="1167" y="102" width="2" height="1" fill="#000"/>
<rect x="1167" y="135" width="2" height="1" fill="#000"/>
<rect x="1167" y="168" width="2" height="1" fill="#000"/>
<rect x="1167" y="201" width="2" height="1" fill="#000"/>
<rect x="1167" y="234" width="2" height="1" fill="#000"/>
<rect x="1167" y="267" width="2" height="1" fill="#000"/>
<rect x="1167" y="300" width="2" height="1" fill="#000"/>
<rect x="1167" y="333" width="2" height="1" fill="#000"/>
<rect x="1167" y="366" width="2" height="1" fill="#000"/>
<rect x="1167" y="399" width="2" height="1" fill="#000"/>
<rect x="1167" y="168" width="39" height="1" fill="#000"/>
<rect x="1168" y="168" width="38" height="11" fill="#000"/>
<g shape-rendering="auto">
<text x="1172.8" y="177" font-size="10" fill="#fff" textLength="32.0" lengthAdjust="spacingAndGlyphs" text-rendering="geometricPrecision" stroke="#fff" stroke-width="0.12">1.27098</text>
</g>
<rect x="1168" y="74" width="38" height="11" fill="#ff0000"/>
<g shape-rendering="auto">
<text x="1172.8" y="83" font-size="10" fill="#fff" textLength="32.0" lengthAdjust="spacingAndGlyphs" text-rendering="geometricPrecision" stroke="#fff" stroke-width="0.12">1.28908</text>
</g>
<rect x="1168" y="146" width="38" height="11" fill="#ff0000"/>
<g shape-rendering="auto">
<text x="1172.8" y="155" font-size="10" fill="#fff" textLength="32.0" lengthAdjust="spacingAndGlyphs" text-rendering="geometricPrecision" stroke="#fff" stroke-width="0.12">1.27515</text>
</g>
<rect x="1168" y="209" width="38" height="11" fill="#00ff00"/>
<g shape-rendering="auto">
<text x="1172.8" y="218" font-size="10" fill="#fff" textLength="32.0" lengthAdjust="spacingAndGlyphs" text-rendering="geometricPrecision" stroke="#fff" stroke-width="0.12">1.26304</text>
</g>
<rect x="1168" y="286" width="38" height="11" fill="#0000ff"/>
<g shape-rendering="auto">
<text x="1172.8" y="295" font-size="10" fill="#fff" textLength="32.0" lengthAdjust="spacingAndGlyphs" text-rendering="geometricPrecision" stroke="#fff" stroke-width="0.12">1.24804</text>
</g>
<rect x="1168" y="365" width="38" height="11" fill="#0000ff"/>
<g shape-rendering="auto">
<text x="1172.8" y="374" font-size="10" fill="#fff" textLength="32.0" lengthAdjust="spacingAndGlyphs" text-rendering="geometricPrecision" stroke="#fff" stroke-width="0.12">1.23283</text>
</g>
<g shape-rendering="auto">
<text x="8.3" y="417" font-size="10" fill="#000" textLength="64.7" lengthAdjust="spacingAndGlyphs" text-rendering="geometricPrecision" stroke="#000" stroke-width="0.12">MACD(12,26,9)</text>
<text x="77.6" y="417" font-size="10" fill="#000" textLength="36.8" lengthAdjust="spacingAndGlyphs" text-rendering="geometricPrecision" stroke="#000" stroke-width="0.12">0.002023</text>
<text x="118.0" y="417" font-size="10" fill="#000" textLength="37.4" lengthAdjust="spacingAndGlyphs" text-rendering="geometricPrecision" stroke="#000" stroke-width="0.12">0.001941</text>
<text x="1170.4" y="415.5" font-size="10" fill="#000" textLength="37.5" lengthAdjust="spacingAndGlyphs" text-rendering="geometricPrecision" stroke="#000" stroke-width="0.12">0.009345</text>
<text x="1170.4" y="443.5" font-size="10" fill="#000" textLength="17.6" lengthAdjust="spacingAndGlyphs" text-rendering="geometricPrecision" stroke="#000" stroke-width="0.12">0.00</text>
<text x="1170.4" y="470.5" font-size="10" fill="#000" textLength="37.5" lengthAdjust="spacingAndGlyphs" text-rendering="geometricPrecision" stroke="#000" stroke-width="0.12">-0.00890</text>
</g>
<rect x="1167" y="406" width="1" height="1" fill="#000"/>
<rect x="1167" y="440" width="2" height="1" fill="#000"/>
<rect x="1167" y="472" width="1" height="1" fill="#000"/>
<clipPath id="cd"><rect x="4" y="405" width="1162" height="68"/></clipPath>
<g clip-path="url(#cd)">
<rect x="3" y="440" width="3" height="26" fill="#c0c0c0"/>
<rect x="11" y="440" width="3" height="27" fill="#c0c0c0"/>
<rect x="19" y="440" width="3" height="28" fill="#c0c0c0"/>
<rect x="27" y="440" width="3" height="28" fill="#c0c0c0"/>
<rect x="35" y="440" width="3" height="30" fill="#c0c0c0"/>
<rect x="43" y="440" width="3" height="30" fill="#c0c0c0"/>
<rect x="51" y="440" width="3" height="28" fill="#c0c0c0"/>
<rect x="59" y="440" width="3" height="27" fill="#c0c0c0"/>
<rect x="67" y="440" width="3" height="26" fill="#c0c0c0"/>
<rect x="75" y="440" width="3" height="25" fill="#c0c0c0"/>
<rect x="83" y="440" width="3" height="24" fill="#c0c0c0"/>
<rect x="91" y="440" width="3" height="24" fill="#c0c0c0"/>
<rect x="99" y="440" width="3" height="22" fill="#c0c0c0"/>
<rect x="107" y="440" width="3" height="21" fill="#c0c0c0"/>
<rect x="115" y="440" width="3" height="20" fill="#c0c0c0"/>
<rect x="123" y="440" width="3" height="18" fill="#c0c0c0"/>
<rect x="131" y="440" width="3" height="16" fill="#c0c0c0"/>
<rect x="139" y="440" width="3" height="13" fill="#c0c0c0"/>
<rect x="147" y="440" width="3" height="11" fill="#c0c0c0"/>
<rect x="155" y="440" width="3" height="9" fill="#c0c0c0"/>
<rect x="163" y="440" width="3" height="7" fill="#c0c0c0"/>
<rect x="171" y="440" width="3" height="6" fill="#c0c0c0"/>
<rect x="179" y="440" width="3" height="4" fill="#c0c0c0"/>
<rect x="187" y="438" width="3" height="2" fill="#c0c0c0"/>
<rect x="195" y="435" width="3" height="5" fill="#c0c0c0"/>
<rect x="203" y="433" width="3" height="7" fill="#c0c0c0"/>
<rect x="211" y="433" width="3" height="7" fill="#c0c0c0"/>
<rect x="219" y="431" width="3" height="9" fill="#c0c0c0"/>
<rect x="227" y="428" width="3" height="12" fill="#c0c0c0"/>
<rect x="235" y="427" width="3" height="13" fill="#c0c0c0"/>
<rect x="243" y="424" width="3" height="16" fill="#c0c0c0"/>
<rect x="251" y="422" width="3" height="18" fill="#c0c0c0"/>
<rect x="259" y="419" width="3" height="21" fill="#c0c0c0"/>
<rect x="267" y="418" width="3" height="22" fill="#c0c0c0"/>
<rect x="275" y="418" width="3" height="22" fill="#c0c0c0"/>
<rect x="283" y="418" width="3" height="22" fill="#c0c0c0"/>
<rect x="291" y="415" width="3" height="25" fill="#c0c0c0"/>
<rect x="299" y="414" width="3" height="26" fill="#c0c0c0"/>
<rect x="307" y="414" width="3" height="26" fill="#c0c0c0"/>
<rect x="315" y="413" width="3" height="27" fill="#c0c0c0"/>
<rect x="323" y="411" width="3" height="29" fill="#c0c0c0"/>
<rect x="331" y="410" width="3" height="30" fill="#c0c0c0"/>
<rect x="339" y="409" width="3" height="31" fill="#c0c0c0"/>
<rect x="347" y="409" width="3" height="31" fill="#c0c0c0"/>
<rect x="355" y="411" width="3" height="29" fill="#c0c0c0"/>
<rect x="363" y="416" width="3" height="24" fill="#c0c0c0"/>
<rect x="371" y="420" width="3" height="20" fill="#c0c0c0"/>
<rect x="379" y="422" width="3" height="18" fill="#c0c0c0"/>
<rect x="387" y="423" width="3" height="17" fill="#c0c0c0"/>
<rect x="395" y="424" width="3" height="16" fill="#c0c0c0"/>
<rect x="403" y="423" width="3" height="17" fill="#c0c0c0"/>
<rect x="411" y="420" width="3" height="20" fill="#c0c0c0"/>
<rect x="419" y="421" width="3" height="19" fill="#c0c0c0"/>
<rect x="427" y="422" width="3" height="18" fill="#c0c0c0"/>
<rect x="435" y="419" width="3" height="21" fill="#c0c0c0"/>
<rect x="443" y="417" width="3" height="23" fill="#c0c0c0"/>
<rect x="451" y="415" width="3" height="25" fill="#c0c0c0"/>
<rect x="459" y="414" width="3" height="26" fill="#c0c0c0"/>
<rect x="467" y="415" width="3" height="25" fill="#c0c0c0"/>
<rect x="475" y="419" width="3" height="21" fill="#c0c0c0"/>
<rect x="483" y="420" width="3" height="20" fill="#c0c0c0"/>
<rect x="491" y="422" width="3" height="18" fill="#c0c0c0"/>
<rect x="499" y="425" width="3" height="15" fill="#c0c0c0"/>
<rect x="507" y="426" width="3" height="14" fill="#c0c0c0"/>
<rect x="515" y="428" width="3" height="12" fill="#c0c0c0"/>
<rect x="523" y="431" width="3" height="9" fill="#c0c0c0"/>
<rect x="531" y="437" width="3" height="3" fill="#c0c0c0"/>
<rect x="539" y="440" width="3" height="2" fill="#c0c0c0"/>
<rect x="547" y="440" width="3" height="2" fill="#c0c0c0"/>
<rect x="555" y="440" width="3" height="3" fill="#c0c0c0"/>
<rect x="563" y="440" width="3" height="3" fill="#c0c0c0"/>
<rect x="571" y="440" width="3" height="4" fill="#c0c0c0"/>
<rect x="579" y="440" width="3" height="7" fill="#c0c0c0"/>
<rect x="587" y="440" width="3" height="9" fill="#c0c0c0"/>
<rect x="595" y="440" width="3" height="10" fill="#c0c0c0"/>
<rect x="603" y="440" width="3" height="13" fill="#c0c0c0"/>
<rect x="611" y="440" width="3" height="18" fill="#c0c0c0"/>
<rect x="619" y="440" width="3" height="21" fill="#c0c0c0"/>
<rect x="627" y="440" width="3" height="22" fill="#c0c0c0"/>
<rect x="635" y="440" width="3" height="22" fill="#c0c0c0"/>
<rect x="643" y="440" width="3" height="24" fill="#c0c0c0"/>
<rect x="651" y="440" width="3" height="25" fill="#c0c0c0"/>
<rect x="659" y="440" width="3" height="25" fill="#c0c0c0"/>
<rect x="667" y="440" width="3" height="26" fill="#c0c0c0"/>
<rect x="675" y="440" width="3" height="23" fill="#c0c0c0"/>
<rect x="683" y="440" width="3" height="23" fill="#c0c0c0"/>
<rect x="691" y="440" width="3" height="18" fill="#c0c0c0"/>
<rect x="699" y="440" width="3" height="16" fill="#c0c0c0"/>
<rect x="707" y="440" width="3" height="12" fill="#c0c0c0"/>
<rect x="715" y="440" width="3" height="7" fill="#c0c0c0"/>
<rect x="723" y="440" width="3" height="1" fill="#c0c0c0"/>
<rect x="731" y="437" width="3" height="3" fill="#c0c0c0"/>
<rect x="739" y="435" width="3" height="5" fill="#c0c0c0"/>
<rect x="747" y="435" width="3" height="5" fill="#c0c0c0"/>
<rect x="755" y="435" width="3" height="5" fill="#c0c0c0"/>
<rect x="763" y="435" width="3" height="5" fill="#c0c0c0"/>
<rect x="771" y="433" width="3" height="7" fill="#c0c0c0"/>
<rect x="779" y="432" width="3" height="8" fill="#c0c0c0"/>
<rect x="787" y="433" width="3" height="7" fill="#c0c0c0"/>
<rect x="795" y="434" width="3" height="6" fill="#c0c0c0"/>
<rect x="803" y="434" width="3" height="6" fill="#c0c0c0"/>
<rect x="811" y="434" width="3" height="6" fill="#c0c0c0"/>
<rect x="819" y="433" width="3" height="7" fill="#c0c0c0"/>
<rect x="827" y="433" width="3" height="7" fill="#c0c0c0"/>
<rect x="835" y="433" width="3" height="7" fill="#c0c0c0"/>
<rect x="843" y="433" width="3" height="7" fill="#c0c0c0"/>
<rect x="851" y="433" width="3" height="7" fill="#c0c0c0"/>
<rect x="859" y="433" width="3" height="7" fill="#c0c0c0"/>
<rect x="867" y="433" width="3" height="7" fill="#c0c0c0"/>
<rect x="875" y="432" width="3" height="8" fill="#c0c0c0"/>
<rect x="883" y="432" width="3" height="8" fill="#c0c0c0"/>
<rect x="891" y="432" width="3" height="8" fill="#c0c0c0"/>
<rect x="899" y="432" width="3" height="8" fill="#c0c0c0"/>
<rect x="907" y="431" width="3" height="9" fill="#c0c0c0"/>
<rect x="915" y="432" width="3" height="8" fill="#c0c0c0"/>
<path d="M3 455h2v1h-2zM5 456h4v1h-4zM9 457h3v1h-3zM12 458h4v1h-4zM16 459h3v1h-3zM19 460h4v1h-4zM23 461h4v1h-4zM27 462h4v1h-4zM31 463h5v1h-5zM36 464h6v1h-6zM42 465h6v1h-6zM48 466h6v1h-6zM54 467h39v1h-39zM93 466h13v1h-13zM106 465h5v1h-5zM111 464h6v1h-6zM117 463h5v1h-5zM122 462h5v1h-5zM127 461h5v1h-5zM132 460h5v1h-5zM137 459h5v1h-5zM142 458h5v1h-5zM147 457h5v1h-5zM152 456h4v1h-4zM156 455h4v1h-4zM160 454h4v1h-4zM164 453h4v1h-4zM168 452h4v1h-4zM172 451h5v1h-5zM177 450h5v1h-5zM182 449h6v1h-6zM188 448h6v1h-6zM194 447h4v1h-4zM198 446h2v1h-2zM200 445h2v1h-2zM202 444h2v1h-2zM204 443h2v1h-2zM206 442h3v1h-3zM209 441h4v1h-4zM213 440h4v1h-4zM217 439h4v1h-4zM221 438h5v1h-5zM226 437h4v1h-4zM230 436h4v1h-4zM234 435h4v1h-4zM238 434h3v1h-3zM241 433h3v1h-3zM244 432h3v1h-3zM247 431h4v1h-4zM251 430h4v1h-4zM255 429h4v1h-4zM259 428h3v1h-3zM262 427h4v1h-4zM266 426h4v1h-4zM270 425h4v1h-4zM274 424h5v1h-5zM279 423h6v1h-6zM285 422h6v1h-6zM291 421h5v1h-5zM296 420h5v1h-5zM301 419h6v1h-6zM307 418h5v1h-5zM312 417h6v1h-6zM318 416h6v1h-6zM324 415h5v1h-5zM329 414h6v1h-6zM335 413h6v1h-6zM341 412h37v1h-37zM378 413h5v1h-5zM383 414h6v1h-6zM389 415h6v1h-6zM395 416h4v1h-4zM399 417h4v1h-4zM403 418h4v1h-4zM407 419h4v1h-4zM411 420h9v1h-9zM420 421h31v1h-31zM451 420h8v1h-8zM459 419h5v1h-5zM464 418h43v1h-43zM507 419h4v1h-4zM511 420h6v1h-6zM517 421h6v1h-6zM523 422h2v1h-2zM525 423h3v1h-3zM528 424h2v1h-2zM530 425h3v1h-3zM533 426h3v1h-3zM536 427h2v1h-2zM538 428h3v1h-3zM541 429h3v1h-3zM544 430h3v1h-3zM547 431h2v1h-2zM549 432h3v1h-3zM552 433h3v1h-3zM555 434h5v1h-5zM560 435h7v1h-7zM567 436h5v1h-5zM572 437h4v1h-4zM576 438h3v1h-3zM579 439h3v1h-3zM582 440h4v1h-4zM586 441h3v1h-3zM589 442h4v1h-4zM593 443h4v1h-4zM597 444h4v1h-4zM601 445h5v1h-5zM606 446h4v1h-4zM610 447h4v1h-4zM614 448h4v1h-4zM618 449h4v1h-4zM622 450h4v1h-4zM626 451h4v1h-4zM630 452h4v1h-4zM634 453h4v1h-4zM638 454h4v1h-4zM642 455h3v1h-3zM645 456h3v1h-3zM648 457h4v1h-4zM652 458h4v1h-4zM656 459h4v1h-4zM660 460h4v1h-4zM664 461h6v1h-6zM670 462h29v1h-29zM699 461h7v1h-7zM706 460h5v1h-5zM711 459h6v1h-6zM717 458h4v1h-4zM721 457h3v1h-3zM724 456h4v1h-4zM728 455h2v1h-2zM730 454h2v1h-2zM732 453h2v1h-2zM734 452h1v1h-1zM735 451h2v1h-2zM737 450h2v1h-2zM739 449h2v1h-2zM741 448h3v1h-3zM744 447h4v1h-4zM748 446h3v1h-3zM751 445h3v1h-3zM754 444h4v1h-4zM758 443h3v1h-3zM761 442h3v1h-3zM764 441h4v1h-4zM768 440h6v1h-6zM774 439h4v1h-4zM778 438h4v1h-4zM782 437h3v1h-3zM785 436h3v1h-3zM788 435h3v1h-3zM791 434h33v1h-33zM824 433h93v1h-93z" fill="#ff0000"/>
</g>
<g shape-rendering="auto">
<text x="8.3" y="488" font-size="10" fill="#000" textLength="31.5" lengthAdjust="spacingAndGlyphs" text-rendering="geometricPrecision" stroke="#000" stroke-width="0.12">RSI(14)</text>
<text x="43.4" y="488" font-size="10" fill="#000" textLength="32.6" lengthAdjust="spacingAndGlyphs" text-rendering="geometricPrecision" stroke="#000" stroke-width="0.12">49.1563</text>
<text x="1170.4" y="486" font-size="10" fill="#000" textLength="14.5" lengthAdjust="spacingAndGlyphs" text-rendering="geometricPrecision" stroke="#000" stroke-width="0.12">100</text>
<text x="1169.8" y="501" font-size="10" fill="#000" textLength="9.5" lengthAdjust="spacingAndGlyphs" text-rendering="geometricPrecision" stroke="#000" stroke-width="0.12">70</text>
<text x="1169.8" y="529" font-size="10" fill="#000" textLength="9.5" lengthAdjust="spacingAndGlyphs" text-rendering="geometricPrecision" stroke="#000" stroke-width="0.12">30</text>
<text x="1170.2" y="544" font-size="10" fill="#000" textLength="4.8" lengthAdjust="spacingAndGlyphs" text-rendering="geometricPrecision" stroke="#000" stroke-width="0.12">0</text>
</g>
<rect x="1167" y="477" width="1" height="1" fill="#000"/>
<rect x="1167" y="547" width="1" height="1" fill="#000"/>
<line x1="5" y1="497.5" x2="1166" y2="497.5" stroke="#c0c0c0" stroke-width="1" stroke-dasharray="3 3"/>
<line x1="5" y1="525.5" x2="1166" y2="525.5" stroke="#c0c0c0" stroke-width="1" stroke-dasharray="3 3"/>
<path d="M4 525h4v1h-4zM8 526h14v1h-14zM22 527h4v1h-4zM26 528h11v1h-11zM37 527h2v1h-2zM39 526h2v1h-2zM41 525h2v1h-2zM43 524h5v1h-5zM48 523h8v1h-8zM56 522h8v1h-8zM64 521h8v1h-8zM72 520h8v1h-8zM80 521h6v1h-6zM86 522h4v1h-4zM90 523h4v1h-4zM94 522h2v1h-2zM96 521h3v1h-3zM99 520h3v1h-3zM102 519h4v1h-4zM106 518h6v1h-6zM112 519h5v1h-5zM117 518h2v1h-2zM119 517h2v1h-2zM121 516h2v1h-2zM123 515h3v1h-3zM126 516h2v1h-2zM128 517h3v1h-3zM131 518h2v1h-2zM133 517h1v1h-1zM134 516h1v1h-1zM135 515h1v1h-1zM136 514h2v1h-2zM138 513h1v1h-1zM139 512h1v1h-1zM140 511h4v1h-4zM144 510h16v1h-16zM160 511h8v1h-8zM168 512h5v1h-5zM173 511h1v1h-1zM174 510h2v1h-2zM176 509h1v1h-1zM177 508h1v1h-1zM178 507h2v1h-2zM180 506h1v1h-1zM181 505h1v1h-1zM182 504h1v1h-1zM183 503h1v1h-1zM184 502h2v1h-2zM186 501h1v1h-1zM187 500h1v1h-1zM188 499h1v1h-1zM189 500h2v1h-2zM191 501h2v1h-2zM193 502h2v1h-2zM195 503h5v1h-5zM200 504h6v1h-6zM206 505h2v1h-2zM208 506h3v1h-3zM211 507h2v1h-2zM213 506h2v1h-2zM215 505h2v1h-2zM217 504h2v1h-2zM219 503h5v1h-5zM224 502h8v1h-8zM232 501h6v1h-6zM238 500h2v1h-2zM240 499h3v1h-3zM243 498h5v1h-5zM248 499h6v1h-6zM254 498h4v1h-4zM258 497h4v1h-4zM262 498h2v1h-2zM264 499h3v1h-3zM267 500h3v1h-3zM270 501h4v1h-4zM274 502h6v1h-6zM280 501h5v1h-5zM285 500h2v1h-2zM287 499h1v1h-1zM288 498h2v1h-2zM290 497h2v1h-2zM292 496h1v1h-1zM293 497h1v1h-1zM294 498h2v1h-2zM296 499h1v1h-1zM297 500h1v1h-1zM298 501h2v1h-2zM300 502h2v1h-2zM302 501h4v1h-4zM306 500h4v1h-4zM310 499h4v1h-4zM314 498h6v1h-6zM320 497h8v1h-8zM328 496h14v1h-14zM342 497h4v1h-4zM346 498h3v1h-3zM349 499h2v1h-2zM351 500h1v1h-1zM352 501h2v1h-2zM354 502h2v1h-2zM356 503h1v1h-1zM357 504h1v1h-1zM358 505h1v2h-1zM359 507h1v1h-1zM360 508h1v1h-1zM361 509h1v1h-1zM362 510h1v2h-1zM363 512h1v1h-1zM364 513h9v1h-9zM373 512h2v1h-2zM375 511h2v1h-2zM377 510h2v1h-2zM379 509h3v1h-3zM382 508h4v1h-4zM386 507h6v1h-6zM392 508h5v1h-5zM397 507h2v1h-2zM399 506h2v1h-2zM401 505h2v1h-2zM403 504h2v1h-2zM405 503h2v1h-2zM407 502h2v1h-2zM409 501h2v1h-2zM411 500h3v1h-3zM414 501h2v1h-2zM416 502h3v1h-3zM419 503h2v1h-2zM421 504h2v1h-2zM423 505h2v1h-2zM425 506h2v1h-2zM427 507h2v1h-2zM429 506h2v1h-2zM431 505h2v1h-2zM433 504h2v1h-2zM435 503h5v1h-5zM440 502h6v1h-6zM446 501h4v1h-4zM450 500h4v1h-4zM454 501h4v1h-4zM458 502h3v1h-3zM461 503h2v1h-2zM463 504h2v1h-2zM465 505h2v1h-2zM467 506h3v1h-3zM470 507h4v1h-4zM474 508h6v1h-6zM480 509h14v1h-14zM494 510h2v1h-2zM496 511h3v1h-3zM499 512h3v1h-3zM502 511h2v1h-2zM504 510h3v1h-3zM507 509h3v1h-3zM510 510h2v1h-2zM512 511h3v1h-3zM515 512h3v1h-3zM518 513h4v1h-4zM522 514h3v1h-3zM525 515h1v1h-1zM526 516h2v1h-2zM528 517h1v1h-1zM529 518h1v1h-1zM530 519h2v1h-2zM532 520h4v1h-4zM536 519h5v1h-5zM541 518h1v1h-1zM542 517h1v1h-1zM543 516h1v1h-1zM544 515h2v1h-2zM546 514h1v1h-1zM547 513h1v1h-1zM548 512h2v1h-2zM550 513h2v1h-2zM552 514h3v1h-3zM555 515h2v1h-2zM557 514h2v1h-2zM559 513h2v1h-2zM561 512h2v1h-2zM563 511h3v1h-3zM566 512h4v1h-4zM570 513h3v1h-3zM573 514h2v1h-2zM575 515h1v1h-1zM576 516h2v1h-2zM578 517h2v1h-2zM580 518h4v1h-4zM584 517h8v1h-8zM592 516h5v1h-5zM597 517h2v1h-2zM599 518h2v1h-2zM601 519h2v1h-2zM603 520h3v1h-3zM606 521h2v1h-2zM608 522h3v1h-3zM611 523h11v1h-11zM622 522h2v1h-2zM624 521h3v1h-3zM627 520h13v1h-13zM640 521h8v1h-8zM648 522h8v1h-8zM656 521h13v1h-13zM669 520h2v1h-2zM671 519h1v1h-1zM672 518h2v1h-2zM674 517h2v1h-2zM676 516h9v1h-9zM685 515h2v1h-2zM687 514h2v1h-2zM689 513h2v1h-2zM691 512h11v1h-11zM702 511h2v1h-2zM704 510h3v1h-3zM707 509h2v1h-2zM709 508h2v1h-2zM711 507h1v1h-1zM712 506h2v1h-2zM714 505h2v1h-2zM716 504h2v1h-2zM718 503h4v1h-4zM722 502h4v1h-4zM726 503h4v1h-4zM730 504h4v1h-4zM734 505h2v1h-2zM736 506h3v1h-3zM739 507h3v1h-3zM742 508h4v1h-4zM746 509h6v1h-6zM752 510h13v1h-13zM765 509h2v1h-2zM767 508h2v1h-2zM769 507h2v1h-2zM771 506h10v1h-10zM781 507h1v1h-1zM782 508h2v1h-2zM784 509h1v1h-1zM785 510h1v1h-1zM786 511h2v1h-2zM788 512h2v1h-2zM790 511h2v1h-2zM792 510h3v1h-3zM795 509h3v1h-3zM798 510h2v1h-2zM800 511h3v1h-3zM803 512h2v1h-2zM805 511h2v1h-2zM807 510h2v1h-2zM809 509h2v1h-2zM811 508h5v1h-5zM816 507h6v1h-6zM822 508h4v1h-4zM826 509h6v1h-6zM832 508h8v1h-8zM840 509h6v1h-6zM846 510h2v1h-2zM848 511h3v1h-3zM851 512h3v1h-3zM854 511h4v1h-4zM858 510h4v1h-4zM862 509h2v1h-2zM864 508h3v1h-3zM867 507h5v1h-5zM872 506h22v1h-22zM894 507h2v1h-2zM896 508h3v1h-3zM899 509h2v1h-2zM901 508h1v1h-1zM902 507h2v1h-2zM904 506h1v1h-1zM905 505h1v1h-1zM906 504h2v1h-2zM908 503h1v1h-1zM909 504h1v1h-1zM910 505h1v1h-1zM911 506h1v1h-1zM912 507h1v2h-1zM913 509h1v1h-1zM914 510h1v1h-1zM915 511h1v1h-1zM916 512h1v1h-1z" fill="#1e90ff"/>
<g shape-rendering="auto">
<rect x="4" y="548" width="1" height="3" fill="#000"/>
<text x="2.9" y="560.2" font-size="10" fill="#000" textLength="50.8" lengthAdjust="spacingAndGlyphs" text-rendering="geometricPrecision" stroke="#000" stroke-width="0.12">15 Oct 2021</text>
<rect x="68" y="548" width="1" height="3" fill="#000"/>
<text x="67.4" y="560.2" font-size="10" fill="#000" textLength="50.5" lengthAdjust="spacingAndGlyphs" text-rendering="geometricPrecision" stroke="#000" stroke-width="0.12">25 Oct 2021</text>
<rect x="132" y="548" width="1" height="3" fill="#000"/>
<text x="131.4" y="560.2" font-size="10" fill="#000" textLength="49.1" lengthAdjust="spacingAndGlyphs" text-rendering="geometricPrecision" stroke="#000" stroke-width="0.12">3 Nov 2021</text>
<rect x="196" y="548" width="1" height="3" fill="#000"/>
<text x="194.9" y="560.2" font-size="10" fill="#000" textLength="53.5" lengthAdjust="spacingAndGlyphs" text-rendering="geometricPrecision" stroke="#000" stroke-width="0.12">12 Nov 2021</text>
<rect x="260" y="548" width="1" height="3" fill="#000"/>
<text x="259.4" y="560.2" font-size="10" fill="#000" textLength="53.1" lengthAdjust="spacingAndGlyphs" text-rendering="geometricPrecision" stroke="#000" stroke-width="0.12">22 Nov 2021</text>
<rect x="324" y="548" width="1" height="3" fill="#000"/>
<text x="322.9" y="560.2" font-size="10" fill="#000" textLength="47.2" lengthAdjust="spacingAndGlyphs" text-rendering="geometricPrecision" stroke="#000" stroke-width="0.12">1 Dec 2021</text>
<rect x="388" y="548" width="1" height="3" fill="#000"/>
<text x="386.9" y="560.2" font-size="10" fill="#000" textLength="52.0" lengthAdjust="spacingAndGlyphs" text-rendering="geometricPrecision" stroke="#000" stroke-width="0.12">10 Dec 2021</text>
<rect x="452" y="548" width="1" height="3" fill="#000"/>
<text x="451.4" y="560.2" font-size="10" fill="#000" textLength="51.2" lengthAdjust="spacingAndGlyphs" text-rendering="geometricPrecision" stroke="#000" stroke-width="0.12">20 Dec 2021</text>
<rect x="516" y="548" width="1" height="3" fill="#000"/>
<text x="515.4" y="560.2" font-size="10" fill="#000" textLength="52.0" lengthAdjust="spacingAndGlyphs" text-rendering="geometricPrecision" stroke="#000" stroke-width="0.12">29 Dec 2021</text>
<rect x="580" y="548" width="1" height="3" fill="#000"/>
<text x="579.4" y="560.2" font-size="10" fill="#000" textLength="45.4" lengthAdjust="spacingAndGlyphs" text-rendering="geometricPrecision" stroke="#000" stroke-width="0.12">7 Jan 2022</text>
<rect x="644" y="548" width="1" height="3" fill="#000"/>
<text x="642.9" y="560.2" font-size="10" fill="#000" textLength="49.8" lengthAdjust="spacingAndGlyphs" text-rendering="geometricPrecision" stroke="#000" stroke-width="0.12">17 Jan 2022</text>
<rect x="708" y="548" width="1" height="3" fill="#000"/>
<text x="707.4" y="560.2" font-size="10" fill="#000" textLength="50.6" lengthAdjust="spacingAndGlyphs" text-rendering="geometricPrecision" stroke="#000" stroke-width="0.12">26 Jan 2022</text>
<rect x="772" y="548" width="1" height="3" fill="#000"/>
<text x="771.4" y="560.2" font-size="10" fill="#000" textLength="47.2" lengthAdjust="spacingAndGlyphs" text-rendering="geometricPrecision" stroke="#000" stroke-width="0.12">4 Feb 2022</text>
<rect x="836" y="548" width="1" height="3" fill="#000"/>
<text x="834.9" y="560.2" font-size="10" fill="#000" textLength="52.2" lengthAdjust="spacingAndGlyphs" text-rendering="geometricPrecision" stroke="#000" stroke-width="0.12">14 Feb 2022</text>
<rect x="900" y="548" width="1" height="3" fill="#000"/>
<text x="899.4" y="560.2" font-size="10" fill="#000" textLength="50.7" lengthAdjust="spacingAndGlyphs" text-rendering="geometricPrecision" stroke="#000" stroke-width="0.12">23 Feb 2022</text>
</g>
</svg>
</body></html>
